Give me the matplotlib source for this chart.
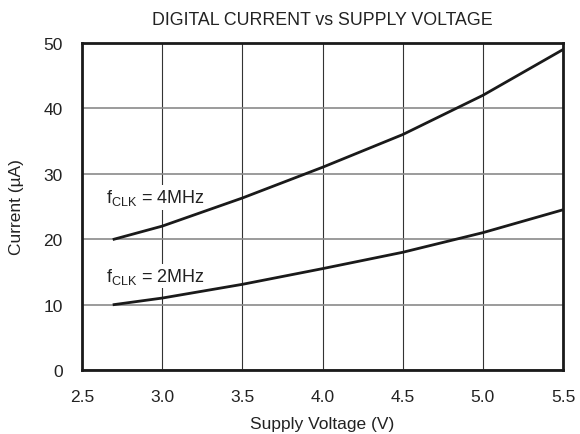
import matplotlib
matplotlib.use("Agg")
import matplotlib.pyplot as plt

plt.rcParams['font.family'] = ['Liberation Sans', 'DejaVu Sans']

voltage = [2.7, 3.0, 3.5, 4.0, 4.5, 5.0, 5.5]
current_4mhz = [20.0, 22.0, 26.3, 31.0, 36.0, 42.0, 49.0]
current_2mhz = [10.0, 11.0, 13.1, 15.5, 18.0, 21.0, 24.5]

xticks = [2.5, 3.0, 3.5, 4.0, 4.5, 5.0, 5.5]
yticks = [0, 10, 20, 30, 40, 50]

fig = plt.figure(figsize=(5.8, 4.35), dpi=100)
ax = fig.add_axes([0.1414, 0.1471, 0.8293, 0.7517])

for x in xticks:
    ax.axvline(x, color='#333333', lw=0.8, zorder=1)
for y in yticks:
    ax.axhline(y, color='#8a8a8a', lw=1.2, zorder=1)

ax.plot(voltage, current_4mhz, color='#1a1a1a', lw=2.0, zorder=3)
ax.plot(voltage, current_2mhz, color='#1a1a1a', lw=2.0, zorder=3)

ax.set_xlim(2.5, 5.5)
ax.set_ylim(0, 50)
ax.set_xticks(xticks)
ax.set_xticklabels([f"{v:.1f}" for v in xticks])
ax.set_yticks(yticks)
ax.tick_params(length=0, labelsize=12.5, labelcolor='#222222')
ax.tick_params(axis='x', pad=14)
ax.tick_params(axis='y', pad=14)
for s in ax.spines.values():
    s.set_linewidth(2.0)
    s.set_color('#1a1a1a')
    s.set_zorder(4)

bbox = dict(facecolor='white', edgecolor='none', pad=1.5)
ax.text(2.65, 26.4, r'f$_{\mathregular{CLK}}$ = 4MHz', fontsize=13, va='center', ha='left',
        bbox=bbox, zorder=2, color='#222222')
ax.text(2.65, 14.4, r'f$_{\mathregular{CLK}}$ = 2MHz', fontsize=13, va='center', ha='left',
        bbox=bbox, zorder=2, color='#222222')

ax.set_xlabel('Supply Voltage (V)', fontsize=12.5, labelpad=8, color='#222222')
ax.set_ylabel('Current (µA)', fontsize=12.5, labelpad=14, color='#222222')
fig.text(0.556, 0.954, 'DIGITAL CURRENT vs SUPPLY VOLTAGE', fontsize=12.8,
         ha='center', va='center', color='#222222')

fig.savefig('out.png', dpi=100)
